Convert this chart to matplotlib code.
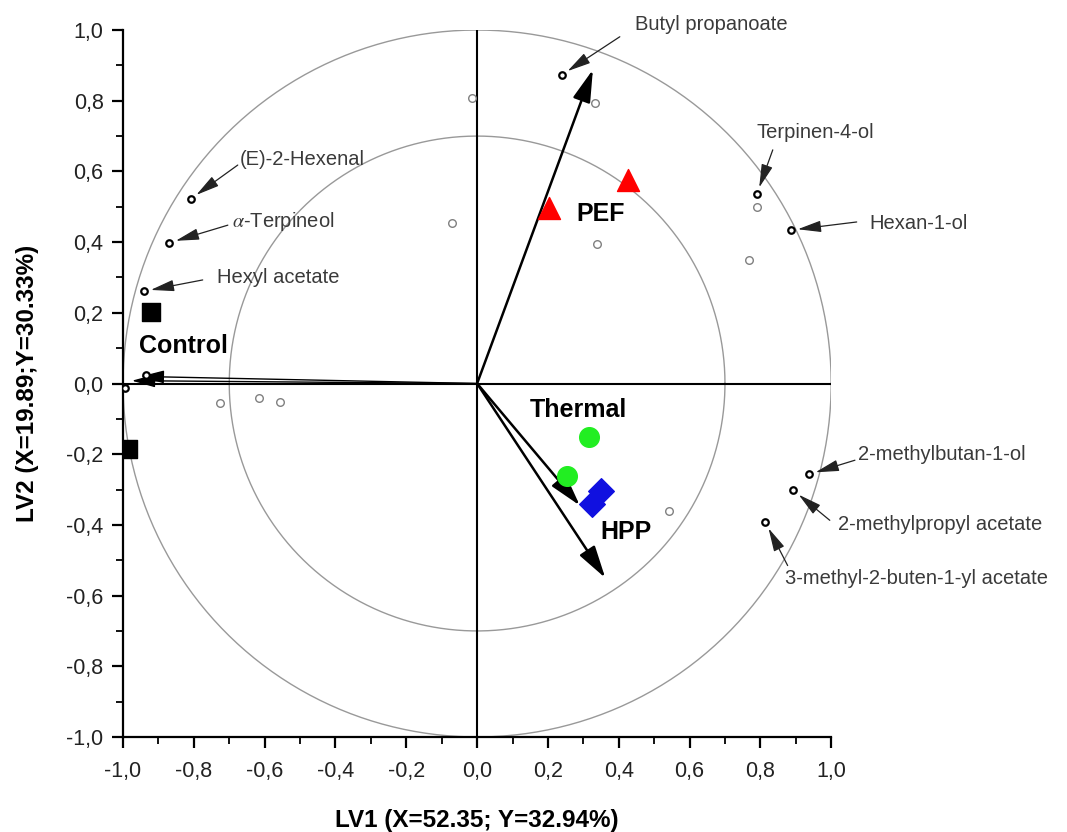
import numpy as np
import matplotlib
matplotlib.use('Agg')
import matplotlib.pyplot as plt
from matplotlib.ticker import MultipleLocator, FuncFormatter

plt.rcParams['font.family'] = ['Liberation Sans', 'DejaVu Sans']
plt.rcParams['mathtext.fontset'] = 'stix'

# labelled volatiles (loadings)
comp_names = ['Butyl propanoate', '(E)-2-Hexenal', r'$\alpha$-Terpineol', 'Hexyl acetate',
              'Terpinen-4-ol', 'Hexan-1-ol', '2-methylbutan-1-ol',
              '2-methylpropyl acetate', '3-methyl-2-buten-1-yl acetate']
comp_x = [0.239, -0.809, -0.870, -0.941, 0.790, 0.886, 0.937, 0.893, 0.814]
comp_y = [0.873, 0.522, 0.398, 0.261, 0.536, 0.434, -0.257, -0.302, -0.392]

# other black loadings (near the x axis, left)
extra_x = [-0.934, -0.995]
extra_y = [0.024, -0.012]

# unlabelled loadings (grey)
grey_x = [-0.015, -0.071, -0.727, -0.617, -0.558, 0.332, 0.340, 0.790, 0.767, 0.541]
grey_y = [0.809, 0.455, -0.055, -0.041, -0.052, 0.794, 0.395, 0.500, 0.349, -0.362]

# treatment scores
control_x = [-0.922, -0.986]
control_y = [0.203, -0.184]
pef_x = [0.202, 0.425]
pef_y = [0.497, 0.576]
thermal_x = [0.315, 0.253]
thermal_y = [-0.150, -0.262]
hpp_x = [0.349, 0.324]
hpp_y = [-0.305, -0.342]

# response vectors
vec_x = [0.327, 0.290, 0.362]
vec_y = [0.888, -0.345, -0.550]
left_vec_x = [-0.975, -0.950]
left_vec_y = [0.008, 0.020]

# label layout: text anchor and arrow tail
label_pos = [(0.445, 1.015), (-0.670, 0.633), (-0.693, 0.457), (-0.736, 0.301),
             (0.790, 0.709), (1.107, 0.452), (1.075, -0.200), (1.019, -0.399),
             (0.869, -0.551)]
tail_pos = [(0.403, 0.981), (-0.676, 0.618), (-0.704, 0.448), (-0.775, 0.293),
            (0.835, 0.661), (1.072, 0.457), (1.067, -0.217), (0.996, -0.387),
            (0.877, -0.515)]

fig = plt.figure(figsize=(10.67, 8.32), dpi=100)
ax = fig.add_axes([0.1153, 0.1142, 0.6637, 0.8497])

t = np.linspace(0, 2*np.pi, 400)
for r in [1.0, 0.7]:
    ax.plot(r*np.cos(t), r*np.sin(t), color='#999999', lw=1.0, zorder=1)

ax.plot([-1, 1], [0, 0], color='black', lw=1.5, zorder=2)
ax.plot([0, 0], [-1, 1], color='black', lw=1.5, zorder=2)

for vx, vy in zip(vec_x, vec_y):
    ax.annotate('', xy=(vx, vy), xytext=(0, 0),
                arrowprops=dict(arrowstyle='-|>,head_length=0.9,head_width=0.25',
                                color='black', lw=1.8, mutation_scale=22,
                                shrinkA=0, shrinkB=0), zorder=3)
for vx, vy in zip(left_vec_x, left_vec_y):
    ax.annotate('', xy=(vx, vy), xytext=(0, 0),
                arrowprops=dict(arrowstyle='-|>,head_length=0.9,head_width=0.25',
                                color='black', lw=1.0, mutation_scale=16,
                                shrinkA=0, shrinkB=0), zorder=3)

ax.scatter(grey_x, grey_y, s=30, facecolors='white', edgecolors='#808080', linewidths=1.0, zorder=4)
ax.scatter(comp_x + extra_x, comp_y + extra_y, s=22, facecolors='white',
           edgecolors='black', linewidths=1.6, zorder=5)

ax.scatter(control_x, control_y, marker='s', s=160, color='black', zorder=6)
ax.scatter(pef_x, pef_y, marker='^', s=250, color='#ff0000', zorder=6)
ax.scatter(thermal_x, thermal_y, marker='o', s=200, color='#22ee22', zorder=6)
ax.scatter(hpp_x, hpp_y, marker='D', s=170, color='#1010e0', zorder=6)

for name, px, py, lp, tp in zip(comp_names, comp_x, comp_y, label_pos, tail_pos):
    ax.text(lp[0], lp[1], name, fontsize=14.5, color='#3a3a3a', ha='left', va='center',
            clip_on=False)
    ax.annotate('', xy=(px, py), xytext=tp, annotation_clip=False,
                arrowprops=dict(arrowstyle='-|>,head_length=0.9,head_width=0.22',
                                color='#222222', lw=0.9, mutation_scale=16,
                                shrinkA=0, shrinkB=5))

bold = dict(fontsize=18, fontweight='bold', ha='center', va='center')
ax.text(-0.83, 0.105, 'Control', **bold)
ax.text(0.35, 0.480, 'PEF', **bold)
ax.text(0.285, -0.075, 'Thermal', **bold)
ax.text(0.42, -0.420, 'HPP', **bold)

ax.set_xlim(-1, 1)
ax.set_ylim(-1, 1)
for s in ['top', 'right']:
    ax.spines[s].set_visible(False)
for s in ['left', 'bottom']:
    ax.spines[s].set_linewidth(1.6)

fmt = FuncFormatter(lambda v, p: ('%.1f' % v).replace('.', ',').replace('-0,0', '0,0'))
for axis in [ax.xaxis, ax.yaxis]:
    axis.set_major_locator(MultipleLocator(0.2))
    axis.set_minor_locator(MultipleLocator(0.1))
    axis.set_major_formatter(fmt)
ax.tick_params(which='major', direction='out', length=8, width=1.6, labelsize=15.5, colors='black')
ax.tick_params(axis='x', which='major', pad=9)
ax.tick_params(axis='y', which='major', pad=6)
ax.tick_params(which='minor', direction='out', length=5, width=1.3)
for lab in ax.get_xticklabels() + ax.get_yticklabels():
    lab.set_color('#222222')

ax.set_xlabel('LV1 (X=52.35; Y=32.94%)', fontsize=17.5, fontweight='bold', labelpad=20)
ax.set_ylabel('LV2 (X=19.89;Y=30.33%)', fontsize=17.5, fontweight='bold', labelpad=20)

fig.savefig('out.png', dpi=100)
